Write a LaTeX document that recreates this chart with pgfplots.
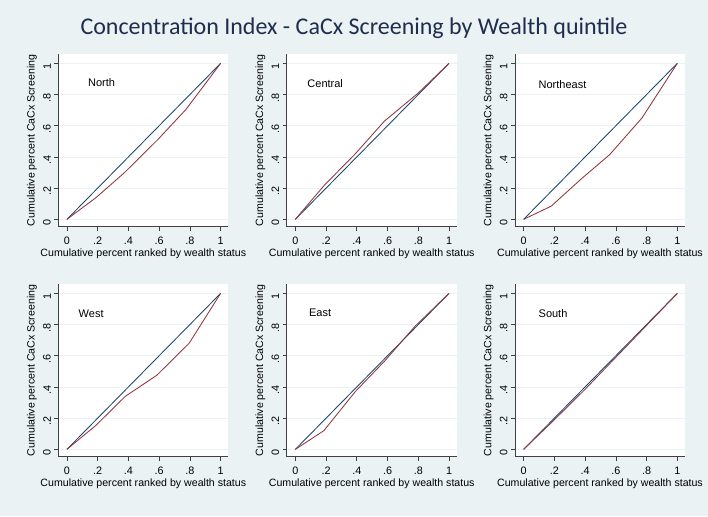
\documentclass[border=0pt]{standalone}
\usepackage{pgfplots}
\pgfplotsset{compat=1.18}
\usepackage{fontspec}
\setmainfont{Liberation Sans}
\newfontfamily\titlefont{Carlito}
\definecolor{bgc}{HTML}{EAF2F3}
\definecolor{navyc}{HTML}{1A476F}
\definecolor{maroonc}{HTML}{90353B}
\definecolor{titlec}{HTML}{1F2D4E}
\definecolor{gridc}{HTML}{EAF2F3}

\tikzset{pl/.style={anchor=west, font=\fontsize{11}{13}\selectfont}}
\pgfplotsset{
  panel/.style={
    scale only axis, width=170pt, height=172.7pt,
    anchor=south west,
    xmin=-0.056, xmax=1.05, ymin=-0.047, ymax=1.06,
    axis lines=left, axis line style={-, black!75, line width=0.6pt},
    axis background/.style={fill=white},
    xtick={0,0.2,0.4,0.6,0.8,1}, xticklabels={0,.2,.4,.6,.8,1},
    ytick={0,0.2,0.4,0.6,0.8,1}, yticklabels={0,.2,.4,.6,.8,1},
    tick align=outside, major tick length=4pt,
    tick style={black!75, line width=0.6pt},
    ymajorgrids, grid style={gridc, line width=0.8pt},
    ticklabel style={font=\fontsize{10.8}{12}\selectfont},
    xticklabel style={yshift=-2.5pt},
    yticklabel style={rotate=90, anchor=south, xshift=-3pt},
    /pgf/number format/assume math mode=true,
    label style={font=\fontsize{10.6}{12}\selectfont},
    xlabel={Cumulative percent ranked by wealth status},
    ylabel={Cumulative percent CaCx Screening},
    xlabel style={at={(axis description cs:0.5,-0.158)}, anchor=center},
    ylabel style={at={(axis description cs:-0.155,0.5)}, anchor=center},
    clip=false,
  },
  eq/.style={navyc, line width=0.85pt, no marks},
  cc/.style={maroonc, line width=0.85pt, no marks},
}

\pgfplotstableread{
x y
0 0
0.19 0.14
0.375 0.30
0.59 0.51
0.775 0.705
1 1
}\north
\pgfplotstableread{
x y
0 0
0.19 0.22
0.39 0.42
0.58 0.63
0.80 0.81
1 1
}\central
\pgfplotstableread{
x y
0 0
0.18 0.085
0.37 0.255
0.56 0.415
0.77 0.65
1 1
}\northeast
\pgfplotstableread{
x y
0 0
0.19 0.155
0.38 0.34
0.585 0.475
0.795 0.68
1 1
}\west
\pgfplotstableread{
x y
0 0
0.186 0.12
0.39 0.37
0.58 0.565
0.78 0.79
1 1
}\east
\pgfplotstableread{
x y
0 0
0.2 0.19
0.4 0.385
0.6 0.59
0.8 0.795
1 1
}\south
\pgfplotstableread{
x y
0 0
1 1
}\diag

\begin{document}
\begin{tikzpicture}
\fill[bgc] (0,0) rectangle (708pt,516pt);
\node[font=\titlefont\fontsize{24}{28}\selectfont, text=titlec] at (354pt,488pt) {Concentration Index - CaCx Screening by Wealth quintile};

\begin{axis}[panel, at={(58.3pt,289.3pt)}]
\addplot[eq] table {\diag};
\addplot[cc] table {\north};
\node[pl] at (axis cs:0.115,0.88) {North};
\end{axis}
\begin{axis}[panel, at={(286.7pt,289.3pt)}]
\addplot[eq] table {\diag};
\addplot[cc] table {\central};
\node[pl] at (axis cs:0.056,0.87) {Central};
\end{axis}
\begin{axis}[panel, at={(515pt,289.3pt)}]
\addplot[eq] table {\diag};
\addplot[cc] table {\northeast};
\node[pl] at (axis cs:0.075,0.867) {Northeast};
\end{axis}

\begin{axis}[panel, at={(58.3pt,59.3pt)}]
\addplot[eq] table {\diag};
\addplot[cc] table {\west};
\node[pl] at (axis cs:0.054,0.868) {West};
\end{axis}
\begin{axis}[panel, at={(286.7pt,59.3pt)}]
\addplot[eq] table {\diag};
\addplot[cc] table {\east};
\node[pl] at (axis cs:0.067,0.877) {East};
\end{axis}
\begin{axis}[panel, at={(515pt,59.3pt)}]
\addplot[eq] table {\diag};
\addplot[cc] table {\south};
\node[pl] at (axis cs:0.075,0.87) {South};
\end{axis}

\pgfresetboundingbox
\path[use as bounding box] (0,0) rectangle (708pt,516pt);
\end{tikzpicture}
\end{document}
